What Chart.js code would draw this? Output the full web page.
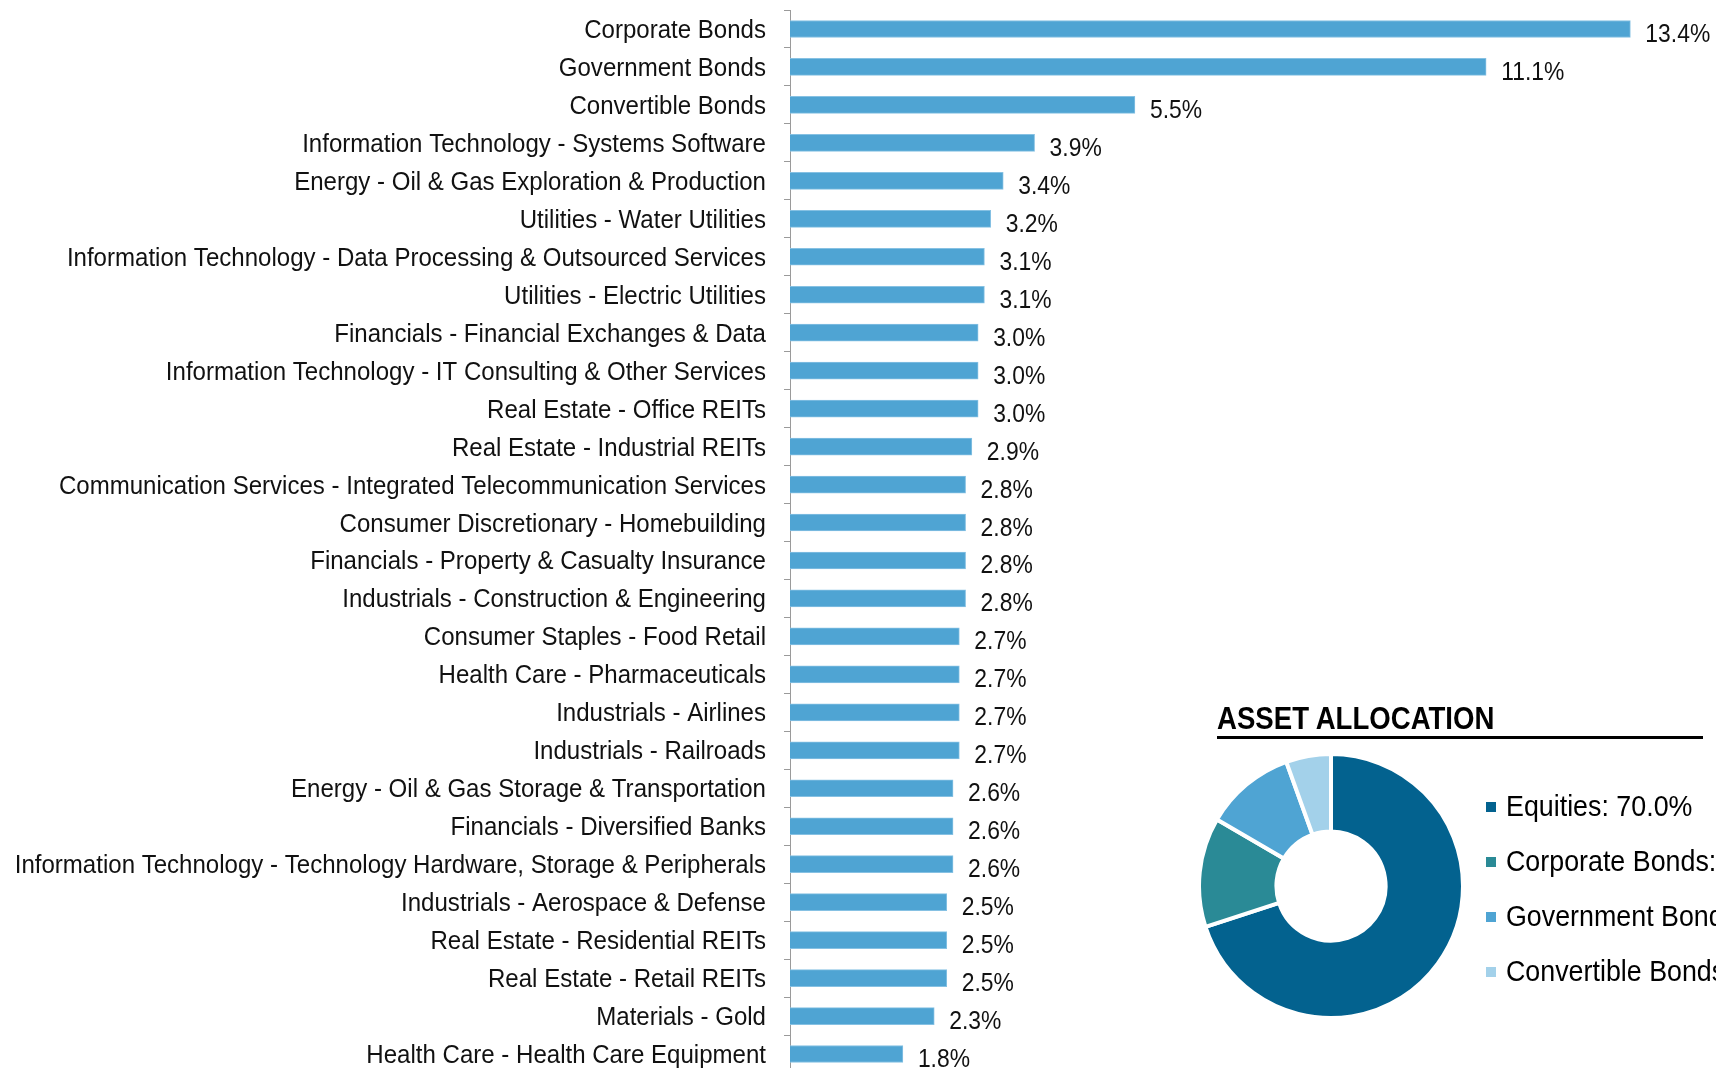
<!DOCTYPE html>
<html>
<head>
<meta charset="utf-8">
<script src="https://cdn.jsdelivr.net/npm/chart.js@4.4.1/dist/chart.umd.min.js"></script>
<style>
  html, body { margin: 0; padding: 0; width: 1716px; height: 1068px; overflow: hidden; background: #fff; }
  #bars { position: absolute; left: 0; top: 0; }
  #donut { position: absolute; left: 1196px; top: 751px; }
  #title { position: absolute; left: 1217px; top: 702px; font: bold 31px 'Liberation Sans', Arial, sans-serif; color: #000; line-height: 34px; white-space: nowrap; transform: scaleX(0.89); transform-origin: 0 0; }
  #rule { position: absolute; left: 1217px; top: 736px; width: 486px; height: 3px; background: #000; }
  #legend { position: absolute; left: 1486px; top: 779px; font: 29px 'Liberation Sans', Arial, sans-serif; color: #000; white-space: nowrap; }
  .li { height: 55px; display: flex; align-items: center; }
  .sw { width: 10px; height: 10px; margin-right: 10px; display: inline-block; flex: none; }
  .tx { display: inline-block; transform: scaleX(0.925); transform-origin: 0 50%; }
</style>
</head>
<body>
<canvas id="bars" width="1716" height="1080"></canvas>
<div id="title">ASSET ALLOCATION</div>
<div id="rule"></div>
<canvas id="donut" width="270" height="270"></canvas>
<div id="legend"></div>
<script>
const categories = [
  "Corporate Bonds",
  "Government Bonds",
  "Convertible Bonds",
  "Information Technology - Systems Software",
  "Energy - Oil & Gas Exploration & Production",
  "Utilities - Water Utilities",
  "Information Technology - Data Processing & Outsourced Services",
  "Utilities - Electric Utilities",
  "Financials - Financial Exchanges & Data",
  "Information Technology - IT Consulting & Other Services",
  "Real Estate - Office REITs",
  "Real Estate - Industrial REITs",
  "Communication Services - Integrated Telecommunication Services",
  "Consumer Discretionary - Homebuilding",
  "Financials - Property & Casualty Insurance",
  "Industrials - Construction & Engineering",
  "Consumer Staples - Food Retail",
  "Health Care - Pharmaceuticals",
  "Industrials - Airlines",
  "Industrials - Railroads",
  "Energy - Oil & Gas Storage & Transportation",
  "Financials - Diversified Banks",
  "Information Technology - Technology Hardware, Storage & Peripherals",
  "Industrials - Aerospace & Defense",
  "Real Estate - Residential REITs",
  "Real Estate - Retail REITs",
  "Materials - Gold",
  "Health Care - Health Care Equipment"
];
const weights = [13.4, 11.1, 5.5, 3.9, 3.4, 3.2, 3.1, 3.1, 3.0, 3.0, 3.0, 2.9, 2.8, 2.8, 2.8, 2.8, 2.7, 2.7, 2.7, 2.7, 2.6, 2.6, 2.6, 2.5, 2.5, 2.5, 2.3, 1.8];

const assetLabels = ["Equities", "Corporate Bonds", "Government Bonds", "Convertible Bonds"];
const assetValues = [70.0, 13.4, 11.1, 5.5];
const assetColors = ["#03628F", "#2A8A96", "#4FA4D3", "#A3D1EA"];

const FONT = "'Liberation Sans', Arial, sans-serif";

// Condensed-looking text: draw real text, horizontally squeezed.
function narrowText(ctx, text, x, y, sx, align) {
  ctx.save();
  ctx.translate(x, y);
  ctx.scale(sx, 1);
  ctx.textAlign = align;
  ctx.textBaseline = "alphabetic";
  ctx.fillText(text, 0, 0);
  ctx.restore();
}

const labelsPlugin = {
  id: 'labelsPlugin',
  afterDraw(chart) {
    const ctx = chart.ctx;
    const yScale = chart.scales.y;
    const meta = chart.getDatasetMeta(0);
    ctx.save();
    ctx.font = "26px " + FONT;
    ctx.fillStyle = "#111";
    // category labels from the y scale
    yScale.ticks.forEach((t, i) => {
      const y = yScale.getPixelForTick(i);
      narrowText(ctx, yScale.getLabelForValue(t.value), yScale.right - 24, y + 9, 0.925, "right");
    });
    // value labels at bar ends
    meta.data.forEach((bar, i) => {
      narrowText(ctx, weights[i].toFixed(1) + "%", bar.x + 15, bar.y + 13, 0.88, "left");
    });
    ctx.restore();
  }
};

new Chart(document.getElementById('bars'), {
  type: 'bar',
  data: {
    labels: categories,
    datasets: [{
      data: weights,
      backgroundColor: "#4FA4D3",
      borderColor: "#86C1E3",
      borderWidth: 1,
      borderSkipped: 'start',
      barThickness: 17
    }]
  },
  options: {
    indexAxis: 'y',
    responsive: false,
    animation: false,
    events: [],
    layout: { padding: { top: 10, bottom: 7, left: 0, right: 48 } },
    plugins: { legend: { display: false }, tooltip: { enabled: false } },
    scales: {
      x: { display: false, min: 0, max: 14 },
      y: {
        afterFit(scale) { scale.width = 790; },
        grid: { drawOnChartArea: false, drawTicks: true, tickLength: 6, color: "#9a9a9a", offset: true },
        border: { display: true, color: "#9a9a9a", width: 1 },
        ticks: { display: false, autoSkip: false }
      }
    }
  },
  plugins: [labelsPlugin]
});

new Chart(document.getElementById('donut'), {
  type: 'doughnut',
  data: {
    labels: assetLabels,
    datasets: [{
      data: assetValues,
      backgroundColor: assetColors,
      borderColor: "#fff",
      borderWidth: 4
    }]
  },
  options: {
    responsive: false,
    animation: false,
    events: [],
    radius: 132,
    cutout: 55,
    plugins: { legend: { display: false }, tooltip: { enabled: false } }
  }
});

const legend = document.getElementById('legend');
assetLabels.forEach((lab, i) => {
  const row = document.createElement('div');
  row.className = 'li';
  const sw = document.createElement('span');
  sw.className = 'sw';
  sw.style.background = assetColors[i];
  const tx = document.createElement('span');
  tx.className = 'tx';
  tx.textContent = lab + ": " + assetValues[i].toFixed(1) + "%";
  row.appendChild(sw);
  row.appendChild(tx);
  legend.appendChild(row);
});
</script>
</body>
</html>
